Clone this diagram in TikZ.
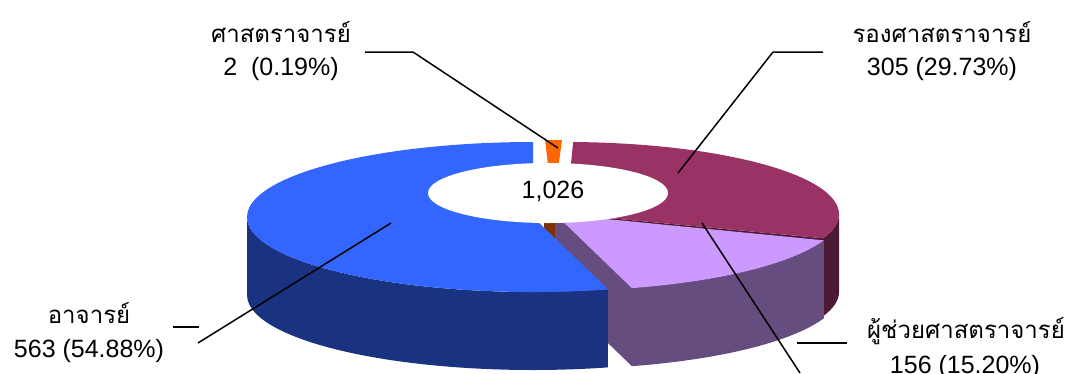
\documentclass[tikz,border=0pt]{standalone}
\usepackage{fontspec}
\setmainfont{Liberation Sans}
\newfontfamily\thaifont[Script=Thai]{Loma}
\usetikzlibrary{calc}
\definecolor{bluetop}{HTML}{3366FF}
\definecolor{blueside}{HTML}{1A3380}
\definecolor{purptop}{HTML}{993366}
\definecolor{purpside}{HTML}{4D1A33}
\definecolor{viotop}{HTML}{CC99FF}
\definecolor{vioside}{HTML}{664D80}
\definecolor{orgtop}{HTML}{FF6600}
\definecolor{orgside}{HTML}{803300}
\begin{document}
\begin{tikzpicture}[x=1pt,y=-1pt,
  leader/.style={draw=black, line width=1.5pt},
  numtext/.style={font=\fontsize{25}{30}\selectfont, anchor=base, inner sep=0pt},
  thaitext/.style={font={\thaifont\fontsize{24}{30}\selectfont}, anchor=base, inner sep=0pt}]
\useasboundingbox (0,0) rectangle (1067,373);
\coordinate (Cb) at (533,217);
\coordinate (Cv) at (555,214);
\coordinate (Cp) at (566,214);
\def\D{78}
% orange slice (0.19%)
\fill[orgside] (544,200) rectangle (555,250);
\fill[orgtop] (545,140) -- (562,140) -- (553,205) -- cycle;
% purple slice
\fill[purpside] ($(Cp)+(0:273 and 72)$) arc[start angle=0,end angle=19.7,x radius=273,y radius=72] -- ++(0,\D) arc[start angle=19.7,end angle=0,x radius=273,y radius=72] -- cycle;
\fill[purpside] (Cp) -- ($(Cp)+(19.7:273 and 72)$) -- ++(0,\D) -- ($(Cp)+(0,\D)$) -- cycle;
\fill[purptop] (Cp) -- ($(Cp)+(-88.5:273 and 72)$) arc[start angle=-88.5,end angle=19.7,x radius=273,y radius=72] -- cycle;
% violet slice
\fill[vioside] (Cv) -- ($(Cv)+(74.4:286 and 77)$) -- ++(0,\D) -- ($(Cv)+(0,\D)$) -- cycle;
\fill[vioside] ($(Cv)+(20:286 and 77)$) arc[start angle=20,end angle=74.4,x radius=286,y radius=77] -- ++(0,\D) arc[start angle=74.4,end angle=20,x radius=286,y radius=77] -- cycle;
\fill[viotop] (Cv) -- ($(Cv)+(20:286 and 77)$) arc[start angle=20,end angle=74.4,x radius=286,y radius=77] -- cycle;
% blue slice
\fill[blueside] ($(Cb)+(74.8:286 and 75)$) arc[start angle=74.8,end angle=180,x radius=286,y radius=75] -- ++(0,\D) arc[start angle=180,end angle=74.8,x radius=286,y radius=75] -- cycle;
\fill[bluetop] (Cb) -- ($(Cb)+(74.8:286 and 75)$) arc[start angle=74.8,end angle=270,x radius=286,y radius=75] -- cycle;
% total
\fill[white] (548,193) ellipse[x radius=120,y radius=30];
\node[numtext] (total) at (553,198) {1,026};
% labels
\node[thaitext] (l1a) at (281,42) {ศาสตราจารย์};
\node[numtext] (l1b) at (281,75) {2\ \ (0.19\%)};
\node[thaitext] (l2a) at (942,42) {รองศาสตราจารย์};
\node[numtext] (l2b) at (942,75) {305 (29.73\%)};
\node[thaitext] (l3a) at (966,338) {ผู้ช่วยศาสตราจารย์};
\node[numtext] (l3b) at (965,373) {156 (15.20\%)};
\node[thaitext] (l4a) at (89,323) {อาจารย์};
\node[numtext] (l4b) at (89,357) {563 (54.88\%)};
% leader lines
\coordinate (o1) at (365,52); \coordinate (o2) at (413,52); \coordinate (o3) at (558,148);
\draw[leader] (o1) -- (o2) -- (o3);
\coordinate (p1) at (823,52); \coordinate (p2) at (773,52); \coordinate (p3) at (678,173);
\draw[leader] (p1) -- (p2) -- (p3);
\coordinate (v1) at (797,343); \coordinate (v2) at (847,343);
\coordinate (v3) at (702,223); \coordinate (v4) at (800,373);
\draw[leader] (v1) -- (v2);
\draw[leader] (v3) -- (v4);
\coordinate (b1) at (173,327); \coordinate (b2) at (199,327);
\coordinate (b3) at (198,343); \coordinate (b4) at (391,223);
\draw[leader] (b1) -- (b2);
\draw[leader] (b3) -- (b4);
\end{tikzpicture}
\end{document}
